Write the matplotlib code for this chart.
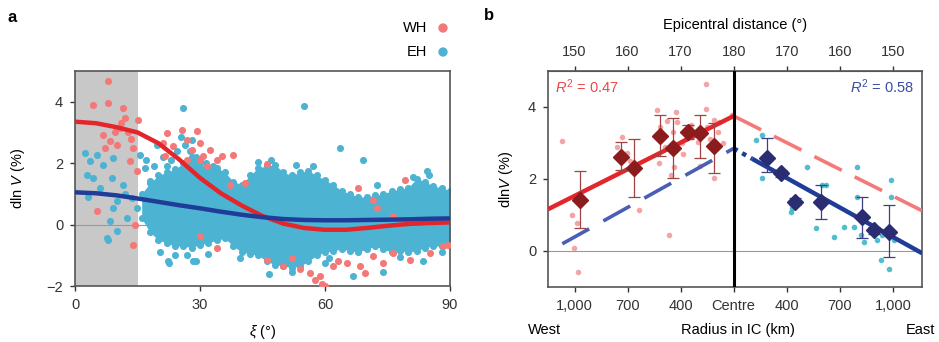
import numpy as np
import matplotlib
matplotlib.use("Agg")
import matplotlib.pyplot as plt

plt.rcParams["font.family"] = ["Liberation Sans", "DejaVu Sans"]
plt.rcParams["mathtext.fontset"] = "custom"
plt.rcParams["mathtext.rm"] = "Liberation Sans"
plt.rcParams["mathtext.it"] = "Liberation Sans:italic"
plt.rcParams["font.size"] = 10.5

# ---- panel a: dlnV against xi ----
# dense EH cloud: upper / lower envelope
band_xi = [16, 18, 20, 22, 24, 26, 28, 30, 32, 34, 36, 38, 40, 42, 44, 46, 48, 50, 52, 54, 56,
           58, 60, 62, 64, 66, 68, 70, 72, 74, 76, 78, 80, 82, 84, 86, 88, 90]
band_hi = [1.0, 1.35, 1.6, 1.7, 1.8, 2.0, 2.2, 2.0, 1.8, 1.85, 1.7, 1.4, 1.3, 1.6, 1.85, 1.9,
           1.95, 1.7, 1.6, 1.7, 1.75, 1.6, 1.45, 1.3, 1.1, 1.0, 0.9, 0.9, 0.95, 1.0, 1.1, 1.15,
           1.2, 1.5, 1.4, 1.25, 1.2, 1.1]
band_lo = [0.2, -0.25, -0.5, -0.6, -0.7, -0.7, -0.75, -0.65, -0.6, -0.5, -0.45, -0.7, -0.9,
           -0.95, -1.0, -1.2, -1.3, -1.35, -1.4, -1.35, -1.2, -1.0, -0.9, -0.85, -0.8, -0.85,
           -0.9, -0.8, -0.7, -0.8, -0.9, -0.85, -0.9, -0.85, -0.75, -0.7, -0.7, -0.65]

eh_xi = [2.4, 3.6, 5.2, 6.8, 9.2, 8.8, 4.4, 2.8, 6.0, 11.6, 10.0, 13.6, 9.2, 12.4, 8.4, 14.8,
         7.6, 10.0, 15.6, 16.8, 18.0, 17.2, 18.8, 19.6, 22.4, 26.8, 28.4, 26.0, 25.5, 26.5,
         27.5, 28.0, 24.5, 29.0, 31.5, 33.0, 22.0, 23.0, 55.0, 63.5, 69.0, 72.5, 84.5, 39.6,
         46.5, 52.0, 60.0, 66.8, 74.0, 83.6, 88.0, 22.5, 29.0, 32.0, 24.0, 8.0, 12.0, 3.0,
         44.0, 47.0, 53.0, 57.0, 81.0, 85.0, 61.0, 78.0, 17.0, 19.0, 21.0, 20.5]
eh_val = [2.33, 2.06, 2.28, 1.95, 2.17, 1.52, 1.52, 1.63, 1.19, 1.3, 0.76, 0.87, 0.54, 0.22,
          0.11, 0.54, -0.43, -0.22, 2.28, 1.84, 1.41, 0.98, 0.54, 2.6, -1.2, -0.98, -1.2, 3.8,
          2.85, 2.6, 2.4, 2.75, 2.4, 2.2, 2.0, 1.9, 1.9, 2.1, 3.87, 2.5, 2.1, 1.3, 1.75, -1.08,
          -1.6, -1.55, -1.25, -1.68, -1.55, -1.2, -0.9, -1.25, -1.2, -0.95, -1.0, -0.5, 1.0,
          0.9, 2.05, 2.1, 1.95, 1.9, 1.55, 1.6, -1.1, -1.05, 2.1, 1.9, 2.2, -0.9]

wh_xi = [8.0, 4.4, 8.0, 11.6, 12.0, 15.2, 10.8, 12.8, 6.8, 8.4, 10.0, 14.0, 7.2, 13.2, 14.8,
         5.2, 14.0, 14.4, 11.0, 9.5, 13.5, 21.2, 22.0, 23.6, 21.6, 26.8, 28.0, 29.2, 30.0,
         30.8, 32.4, 34.0, 35.2, 38.0, 30.0, 25.6, 26.8, 31.6, 37.2, 40.8, 34.0, 30.0, 46.0,
         68.0, 71.6, 72.5, 79.2, 76.4, 46.0, 50.0, 54.0, 56.4, 58.8, 59.2, 60.0, 62.0, 65.2,
         68.4, 69.6, 71.6, 74.0, 76.4, 80.4, 85.2, 88.4, 89.6, 57.5, 63.0, 52.0]
wh_val = [4.66, 3.9, 3.96, 3.8, 3.47, 3.41, 3.14, 3.03, 2.93, 2.71, 2.6, 2.49, 2.49, 2.08,
          1.76, 0.43, -0.65, 0.0, 3.3, 3.0, 2.8, 2.66, 2.98, 2.55, 2.22, 2.76, 2.44, 3.04,
          2.66, 2.22, 2.44, 2.11, 2.22, 2.28, 2.11, 3.09, 2.11, 1.9, 1.3, 1.35, -0.76, -0.38,
          1.98, 1.19, 0.81, 0.55, 1.46, 0.27, -1.14, -1.36, -1.46, -1.57, -1.68, -1.95, -2.0,
          -1.36, -1.25, -1.36, -1.57, -1.03, -1.25, -0.92, -1.14, -0.92, -0.7, -0.65, -1.8,
          -1.2, -1.1]

# smooth fits
fit_xi = [0, 5, 10, 15, 20, 25, 30, 35, 40, 45, 50, 55, 60, 65, 70, 75, 80, 85, 90]
wh_fit = [3.35, 3.3, 3.17, 3.0, 2.65, 2.12, 1.52, 1.02, 0.62, 0.28, 0.03, -0.11, -0.17,
          -0.17, -0.11, -0.04, 0.02, 0.05, 0.07]
eh_fit = [1.05, 1.02, 0.95, 0.85, 0.74, 0.63, 0.53, 0.42, 0.32, 0.24, 0.18, 0.15, 0.14,
          0.14, 0.15, 0.16, 0.17, 0.19, 0.2]

# ---- panel b: dlnV against distance from the antipode (west < 0 < east) ----
top_ticks = [-30, -20, -10, 0, 10, 20, 30]
top_labels = ["150", "160", "170", "180", "170", "160", "150"]
radius_labels = ["1,000", "700", "400", "Centre", "400", "700", "1,000"]

wh_pts_x = [-32.3, -30.1, -29.4, -30.4, -29.5, -28.5, -21.0, -17.9, -20.1, -12.2, -14.4,
            -13.9, -14.1, -11.3, -11.9, -10.9, -10.6, -9.7, -8.7, -7.8, -6.8, -5.3, -5.3,
            -6.4, -5.0, -3.7, -2.8, -3.7, -0.25, -12.5, -11.5, -9.0, -8.0, -7.0, -4.5, -3.0,
            -2.0, -9.5, -13.0, -22.0, -19.5]
wh_pts_y = [3.06, 0.07, -0.57, 1.0, 0.77, 1.51, 3.18, 1.14, 2.71, 0.44, 3.92, 3.45, 2.44,
            2.34, 2.11, 3.87, 3.59, 2.99, 3.36, 3.18, 3.04, 4.64, 3.94, 2.36, 3.45, 3.64, 3.59,
            2.02, 3.78, 3.6, 3.3, 3.1, 3.5, 3.3, 3.1, 3.3, 3.0, 2.7, 2.9, 2.9, 2.5]

eh_pts_x = [4.15, 5.4, 5.4, 9.2, 10.75, 13.9, 15.5, 16.7, 17.4, 18.9, 20.8, 23.3, 23.3, 22.7,
            24.6, 26.5, 27.1, 27.7, 29.6, 29.6, 29.3, 30.3, 11.0, 24.0, 28.0]
eh_pts_y = [3.08, 3.22, 2.02, 2.25, 1.09, 2.34, 0.63, 1.83, 1.83, 0.4, 0.68, 2.34, 1.51,
            0.68, 0.26, 0.58, 0.31, -0.25, 1.97, 1.51, -0.51, 0.31, 1.2, 0.45, 0.45]

wh_bin_x = [-29.0, -21.3, -18.8, -13.8, -11.4, -8.7, -6.4, -3.7]
wh_bin_y = [1.42, 2.62, 2.30, 3.19, 2.85, 3.31, 3.29, 2.92]
wh_err_lo = [0.77, 0.37, 0.79, 0.55, 0.83, 0.2, 0.72, 0.76]
wh_err_hi = [0.8, 0.42, 0.81, 0.6, 0.84, 0.2, 0.49, 0.63]

eh_bin_x = [6.36, 8.87, 11.5, 16.4, 24.15, 26.5, 29.2]
eh_bin_y = [2.57, 2.16, 1.37, 1.37, 0.94, 0.58, 0.54]
eh_err_lo = [0.37, 0.1, 0.1, 0.49, 0.59, 0.1, 0.7]
eh_err_hi = [0.56, 0.1, 0.1, 0.46, 0.57, 0.1, 0.74]

# linear fits, solid on their own hemisphere and mirrored (dashed) on the other
wh_line_x = [-35.0, 0.0]
wh_line_y = [1.16, 3.75]
wh_mirror_x = [0.0, 35.5]
wh_mirror_y = [3.75, 1.12]
eh_line_x = [3.5, 35.5]
eh_line_y = [2.56, -0.06]
eh_dot_x = [0.0, 3.5]
eh_dot_y = [2.85, 2.56]
eh_mirror_x = [-32.3, 0.0]
eh_mirror_y = [0.2, 2.85]

RED_PT = "#F37878"
BLUE_PT = "#4DB3D2"
RED_LINE = "#E4262B"
BLUE_LINE = "#1F3C98"
SPINE = "#555555"


def style_axes(ax):
    for sp in ax.spines.values():
        sp.set_color(SPINE)
        sp.set_linewidth(1.2)
    ax.tick_params(colors="#333333", length=3.5, width=1, labelsize=10.5, pad=5)


fig = plt.figure(figsize=(9.39, 3.42), dpi=100)

ax = fig.add_axes([75 / 939, 1 - 286 / 342, 375 / 939, 215 / 342])
ax.axvspan(0, 15, color="#C8C8C8", lw=0, zorder=0)
ax.axhline(0, color="#999999", lw=0.8, zorder=1)
ax.fill_between(band_xi, band_lo, band_hi, color=BLUE_PT, lw=0, zorder=2)
ax.scatter(band_xi, band_hi, s=26, color=BLUE_PT, lw=0, zorder=2)
ax.scatter(band_xi, band_lo, s=26, color=BLUE_PT, lw=0, zorder=2)
ax.scatter(eh_xi, eh_val, s=26, color=BLUE_PT, lw=0, zorder=2)
ax.scatter(wh_xi, wh_val, s=26, color=RED_PT, lw=0, zorder=3)
ax.plot(fit_xi, wh_fit, color=RED_LINE, lw=3.2, zorder=4, solid_capstyle="butt")
ax.plot(fit_xi, eh_fit, color=BLUE_LINE, lw=3.2, zorder=5, solid_capstyle="butt")
ax.set_xlim(0, 90)
ax.set_ylim(-2, 5)
ax.set_xticks([0, 30, 60, 90])
ax.set_yticks([-2, 0, 2, 4])
ax.set_xlabel(r"$\xi$ (°)", labelpad=8)
ax.set_ylabel(r"dln $V$ (%)", labelpad=14)
style_axes(ax)

# legend: labels with dots on the right
fig.text(427 / 939, 1 - 28 / 342, "WH", ha="right", va="center", fontsize=10.5)
fig.text(427 / 939, 1 - 52 / 342, "EH", ha="right", va="center", fontsize=10.5)
ax.scatter([443 / 939, 443 / 939], [1 - 28 / 342, 1 - 52 / 342], s=45,
           color=[RED_PT, BLUE_PT], lw=0, transform=fig.transFigure, clip_on=False)

fig.text(8 / 939, 1 - 18 / 342, "a", fontsize=12, fontweight="bold", va="center")
fig.text(484 / 939, 1 - 16 / 342, "b", fontsize=12, fontweight="bold", va="center")

# ---- panel b ----
bx = fig.add_axes([548 / 939, 1 - 287 / 342, 374 / 939, 216 / 342])
bx.axhline(0, color="#999999", lw=0.8, zorder=1)
bx.axvline(0, color="black", lw=2.2, zorder=6)
bx.scatter(wh_pts_x, wh_pts_y, s=16, color="#F29595", alpha=0.85, lw=0, zorder=2)
bx.scatter(eh_pts_x, eh_pts_y, s=16, color="#3FB6C6", alpha=0.9, lw=0, zorder=2)
bx.plot(wh_mirror_x, wh_mirror_y, color="#F47A7A", lw=2.6, dashes=(8.5, 4), zorder=3)
bx.plot(eh_mirror_x, eh_mirror_y, color="#4A5FB3", lw=2.6, dashes=(8.5, 4.5), zorder=3)
bx.plot(wh_line_x, wh_line_y, color=RED_LINE, lw=3.2, zorder=3, solid_capstyle="butt")
bx.plot(eh_line_x, eh_line_y, color=BLUE_LINE, lw=3.2, zorder=3, solid_capstyle="butt")
bx.plot(eh_dot_x, eh_dot_y, color=BLUE_LINE, lw=3.2, dashes=(1, 1.2), zorder=3)
bx.errorbar(wh_bin_x, wh_bin_y, yerr=[wh_err_lo, wh_err_hi], fmt="D", ms=8.5,
            color="#8B1C1E", ecolor="#9E4444", elinewidth=0.9, capsize=4, capthick=0.9,
            zorder=4)
bx.errorbar(eh_bin_x, eh_bin_y, yerr=[eh_err_lo, eh_err_hi], fmt="D", ms=8.5,
            color="#2B2D73", ecolor="#3C3F80", elinewidth=0.9, capsize=4, capthick=0.9,
            zorder=4)
bx.set_xlim(-35, 35.5)
bx.set_ylim(-1, 5)
bx.set_yticks([0, 2, 4])
bx.set_xticks(top_ticks)
bx.set_xticklabels(radius_labels)
bx.set_ylabel(r"dln$V$ (%)", labelpad=9)
style_axes(bx)
top = bx.secondary_xaxis("top")
top.set_xticks(top_ticks)
top.set_xticklabels(top_labels)
top.set_xlabel("Epicentral distance (°)", labelpad=12)
top.tick_params(colors="#333333", length=3.5, width=1, labelsize=10.5, pad=5)
top.spines["top"].set_color(SPINE)

bx.text(0.02, 0.9, r"$R^2$ = 0.47", transform=bx.transAxes, color="#E8494C", fontsize=10.5)
bx.text(0.98, 0.9, r"$R^2$ = 0.58", transform=bx.transAxes, color="#3A4CA3", fontsize=10.5,
        ha="right")

fig.text(528 / 939, 1 - 330 / 342, "West", va="center", fontsize=10.5)
fig.text(738 / 939, 1 - 330 / 342, "Radius in IC (km)", ha="center", va="center",
         fontsize=10.5)
fig.text(906 / 939, 1 - 330 / 342, "East", va="center", fontsize=10.5)

fig.savefig("out.png", dpi=100)
